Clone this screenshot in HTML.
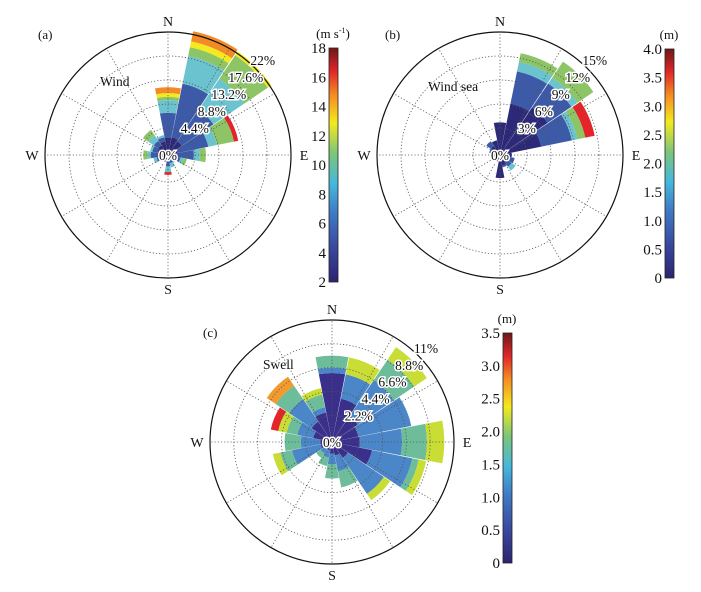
<!DOCTYPE html>
<html><head><meta charset="utf-8">
<style>
body{margin:0;background:#fff;}
svg{display:block;font-family:"Liberation Serif",serif;}
</style></head>
<body>
<svg id="chart" width="701" height="592" viewBox="0 0 701 592" xmlns="http://www.w3.org/2000/svg">
<defs>
<linearGradient id="cmap" x1="0" y1="1" x2="0" y2="0">
<stop offset="0" stop-color="#2c2470"/>
<stop offset="0.15" stop-color="#3a4aa0"/>
<stop offset="0.3" stop-color="#3f7cc4"/>
<stop offset="0.42" stop-color="#45b8dc"/>
<stop offset="0.55" stop-color="#7cc57a"/>
<stop offset="0.68" stop-color="#f3ea1e"/>
<stop offset="0.8" stop-color="#f58b22"/>
<stop offset="0.9" stop-color="#e0262a"/>
<stop offset="1" stop-color="#6e1818"/>
</linearGradient>
</defs>
</svg>
<script>
// Panel (a) wind: cumulative % per direction, per speed bin
const dirsA = [0,22.5,45,67.5,90,112.5,135,157.5,180,202.5,225,247.5,270,292.5,315,337.5];
const colorsA = ["#2c2a78","#3d5aa8","#6cc3d0","#8cc466","#f2ea1e","#f38a28","#e3242a"];
const cumA = [
 [2.6,7.2,9.5,10.1,10.8,11.9,11.9],
 [2.8,12.8,18,19.6,20.7,22.6,22.6],
 [2.5,9.5,16.3,21.5,22.3,22.3,22.3],
 [1.2,7.0,8.6,11.8,11.8,11.8,12.6],
 [1.0,4.2,5.3,6.4,6.4,6.4,6.4],
 [1.0,1.8,2.4,3.0,3.0,3.0,3.0],
 [0.6,1.0,1.2,1.2,1.2,1.2,1.2],
 [0.5,1.0,1.8,1.8,1.8,1.8,1.8],
 [0.6,1.5,2.6,2.6,2.6,2.6,3.1],
 [0.5,0.8,0.8,0.8,0.8,0.8,0.8],
 [0.4,0.8,0.8,0.8,0.8,0.8,0.8],
 [0.6,1.6,2.2,2.2,2.2,2.2,2.2],
 [1.2,2.6,3.2,4.0,4.0,4.0,4.0],
 [1.4,2.4,2.8,2.8,2.8,2.8,2.8],
 [1.6,2.6,3.8,5.0,5.0,5.0,5.0],
 [2.0,2.8,3.2,3.2,3.2,3.2,3.2]
];
const ticksA = ["0%","4.4%","8.8%","13.2%","17.6%","22%"];
const maxA = 22;
const cbA = ["2","4","6","8","10","12","14","16","18"];

// Panel (b) wind sea
const colorsB = ["#2c2a78","#3d5aa8","#6cc3d0","#8cc466","#e3242a"];
const cumB = [
 [3.7,3.7,3.7,3.7,3.7],
 [6.2,10.3,11.5,12.6,12.6],
 [6.8,10.4,11.3,13.7,13.7],
 [4.9,8.8,9.5,10.5,11.7],
 [1.1,1.1,1.1,1.1,1.1],
 [0.6,1.5,1.5,1.5,1.5],
 [0.8,1.4,2.0,2.0,2.0],
 [1.0,1.2,1.2,1.2,1.2],
 [2.5,2.5,2.5,2.5,2.5],
 [0.5,0.5,0.5,0.5,0.5],
 [0.4,0.4,0.4,0.4,0.4],
 [0.4,0.4,0.4,0.4,0.4],
 [0.5,0.5,0.5,0.5,0.5],
 [0.8,1.0,1.0,1.0,1.0],
 [1.0,1.7,1.7,1.7,1.7],
 [1.5,1.5,1.5,1.5,1.5]
];
const ticksB = ["0%","3%","6%","9%","12%","15%"];
const maxB = 15;
const cbB = ["0","0.5","1.0","1.5","2.0","2.5","3.0","3.5","4.0"];

// Panel (c) swell
const colorsC = ["#3a2f8a","#4a86c8","#6dbd9a","#c9dd35","#f29a2e","#e2262a"];
const cumC = [
 [6.1,6.6,7.7,7.7,7.7,7.7],
 [3.8,6.1,6.1,7.7,7.7,7.7],
 [2.6,6.6,8.9,10.3,10.3,10.3],
 [2.2,7.2,7.2,7.2,7.2,7.2],
 [2.3,6.2,8.5,10.1,10.1,10.1],
 [3.5,7.3,7.9,8.6,8.6,8.6],
 [1.5,5.5,5.5,6.2,6.2,6.2],
 [1.0,2.5,4.0,4.0,4.0,4.0],
 [0.8,1.8,3.1,3.1,3.1,3.1],
 [0.5,1.2,2.0,2.0,2.0,2.0],
 [0.5,1.0,1.5,1.5,1.5,1.5],
 [0.8,3.5,4.6,5.3,5.3,5.3],
 [0.8,2.6,4.1,4.1,4.1,4.1],
 [1.5,3.0,4.0,4.8,4.8,5.5],
 [2.0,4.5,6.0,6.0,7.0,7.0],
 [2.5,3.0,4.2,4.8,4.8,4.8]
];
const ticksC = ["0%","2.2%","4.4%","6.6%","8.8%","11%"];
const maxC = 11;
const cbC = ["0","0.5","1.0","1.5","2.0","2.5","3.0","3.5"];

const NS = "http://www.w3.org/2000/svg";
const svg = document.getElementById('chart');
function mk(tag, attrs, parent){
  const e = document.createElementNS(NS, tag);
  for (const k in attrs) e.setAttribute(k, attrs[k]);
  (parent||svg).appendChild(e);
  return e;
}
function pt(cx,cy,r,deg){const a=deg*Math.PI/180;return [cx+r*Math.sin(a), cy-r*Math.cos(a)];}
function wedge(cx,cy,r0,r1,a0,a1){
  const p1=pt(cx,cy,r0,a0),p2=pt(cx,cy,r1,a0),p3=pt(cx,cy,r1,a1),p4=pt(cx,cy,r0,a1);
  return `M${p1}L${p2}A${r1},${r1} 0 0 1 ${p3}L${p4}A${r0},${r0} 0 0 0 ${p1}Z`;
}

function rose(name, cx, cy, R, maxPct, ticks, cum, colors, label, title){
  const g = mk('g', {});
  
  
  const r0 = 3;
  const rs = p => r0 + p/maxPct*(R-r0);
  cum.forEach((row, i) => {
    const d = dirsA[i];
    let prev = 0;
    row.forEach((v, j) => {
      if (v > prev + 0.01) {
        const w = mk('path', {d: wedge(cx,cy,rs(prev),rs(v),d-11,d+11), fill: colors[j], stroke:'none'}, g);
        
        
      }
      prev = Math.max(prev, v);
    });
  });
  for (let k=1;k<ticks.length-1;k++){
    const c = mk('circle',{cx,cy,r:rs(k*maxPct/(ticks.length-1)),fill:'none',stroke:'#555','stroke-width':0.8,'stroke-dasharray':'1.2,2'},g);
    
    
  }
  for (let a=0;a<360;a+=30){
    const [x1,y1]=pt(cx,cy,rs(maxPct/(ticks.length-1))*0.4,a),[x2,y2]=pt(cx,cy,R,a);
    const l = mk('line',{x1,y1,x2,y2,stroke:'#555','stroke-width':0.8,'stroke-dasharray':'1.2,2'},g);
    
    
  }
  const oc = mk('circle',{cx,cy,r:R,fill:'none',stroke:'#111','stroke-width':1.2},g);
  
  
  ticks.forEach((t,k)=>{
    const rr = k===0 ? 0 : rs(k*maxPct/(ticks.length-1)) + 11;
    const [x,y] = pt(cx,cy,rr,45);
    const tx = mk('text',{x,y:y+5,'text-anchor':'middle','font-size':13.5,fill:'#111',stroke:'#fff','stroke-width':3,'paint-order':'stroke'},g);
    tx.textContent = t;
    
    
  });
  [['N',0,R+11],['E',90,R+13],['S',180,R+11],['W',270,R+13]].forEach(([s,a,rr])=>{
    const [x,y]=pt(cx,cy,rr,a);
    const tx = mk('text',{x,y:y+5,'text-anchor':'middle','font-size':14,fill:'#111'},g);
    tx.textContent = s;
    
    
  });
  const tl = mk('text',{x:label[0],y:label[1],'font-size':13,fill:'#111'},g);
  tl.textContent = label[2];
  
  
  const tt = mk('text',{x:title[0],y:title[1],'font-size':13.5,fill:'#111'},g);
  tt.textContent = title[2];
  
  
}

function colorbar(name, x, y0, y1, labels, unit){
  const g = mk('g',{});
  
  
  const r = mk('rect',{x,y:y0,width:9,height:y1-y0,fill:'url(#cmap)',stroke:'#222','stroke-width':0.8},g);
  
  
  labels.forEach((t,i)=>{
    const y = y1 - i*(y1-y0)/(labels.length-1);
    const tx = mk('text',{x:x-3,y:y+5,'text-anchor':'end','font-size':15,fill:'#111'},g);
    tx.textContent = t;
    
    
  });
  const u = mk('text',{x:x+4,y:y0-10,'text-anchor':'middle','font-size':13,fill:'#111'},g);
  u.innerHTML = unit;
  
  
}

rose('panel-a-wind', 168, 155, 123, maxA, ticksA, cumA, colorsA, [38,39,'(a)'], [100,86,'Wind']);
rose('panel-b-wind-sea', 500, 155, 123, maxB, ticksB, cumB, colorsB, [385,39,'(b)'], [428,91,'Wind sea']);
rose('panel-c-swell', 332, 442, 122, maxC, ticksC, cumC, colorsC, [203,337,'(c)'], [263,369,'Swell']);
colorbar('colorbar-a', 329, 48, 282, cbA, '(m s<tspan font-size="8" dy="-5">-1</tspan><tspan dy="5">)</tspan>');
colorbar('colorbar-b', 665, 49, 278, cbB, '(m)');
colorbar('colorbar-c', 503, 333, 563, cbC, '(m)');
</script>
</body></html>
